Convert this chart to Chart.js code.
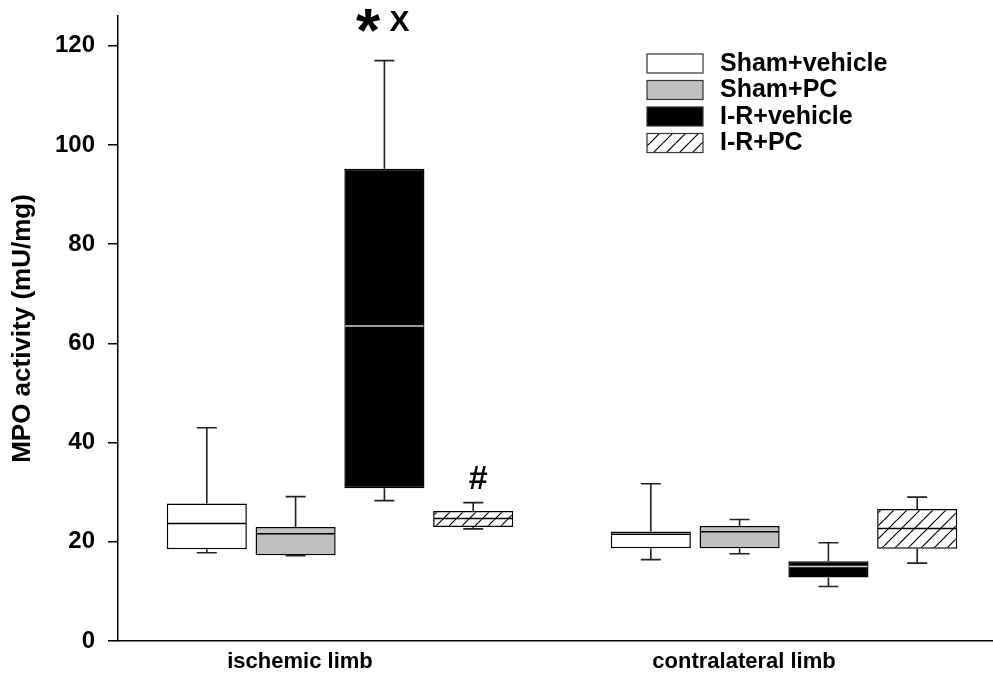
<!DOCTYPE html>
<html>
<head>
<meta charset="utf-8">
<script src="https://cdn.jsdelivr.net/npm/chart.js@4.4.0/dist/chart.umd.min.js"></script>
<style>
  html, body { margin: 0; padding: 0; overflow: hidden; background: #fff; }
  #wrap { width: 1010px; height: 679px; position: relative; }
</style>
</head>
<body>
<div id="wrap"><canvas id="chart"></canvas></div>
<script>
// ── data: [series][group] ──
const groups = ["ischemic limb", "contralateral limb"];
const seriesNames = ["Sham+vehicle", "Sham+PC", "I-R+vehicle", "I-R+PC"];
const whiskerMin = [[17.8, 16.4], [17.2, 17.6], [28.3, 11.0], [22.6, 15.7]];
const quartile1  = [[18.5, 18.7], [17.3, 18.7], [30.8, 12.8], [23.0, 18.6]];
const medians    = [[23.7, 21.5], [21.6, 22.0], [63.5, 15.0], [24.7, 22.7]];
const quartile3  = [[27.7, 22.1], [23.0, 23.2], [95.2, 16.1], [26.2, 26.6]];
const whiskerMax = [[43.0, 31.7], [29.1, 24.5], [117.0, 19.8], [27.9, 29.0]];
const yTicks = [0, 20, 40, 60, 80, 100, 120];
const marks = [
  { series: 2, group: 0, text: ["*", "X"] },
  { series: 3, group: 0, text: ["#"] }
];

const FONT = "'Liberation Sans', Arial, sans-serif";

function hatchPattern() {
  const c = document.createElement("canvas");
  c.width = c.height = 13;
  const g = c.getContext("2d");
  g.fillStyle = "#fff";
  g.fillRect(0, 0, 13, 13);
  g.strokeStyle = "#000";
  g.lineWidth = 1.2;
  g.beginPath();
  [-13, 0, 13].forEach(k => { g.moveTo(k, 13); g.lineTo(k + 13, 0); });
  g.stroke();
  return g.createPattern(c, "repeat");
}

const fills = ["#ffffff", "#c0c0c0", "#000000", hatchPattern()];

// whiskers, medians, significance marks, legend
const boxExtras = {
  id: "boxExtras",
  afterDatasetsDraw(chart) {
    const { ctx, scales: { y } } = chart;
    ctx.save();
    chart.data.datasets.forEach((ds, s) => {
      chart.getDatasetMeta(s).data.forEach((bar, g) => {
        const half = bar.width / 2;
        const top = y.getPixelForValue(quartile3[s][g]);
        const bot = y.getPixelForValue(quartile1[s][g]);
        const hi = y.getPixelForValue(whiskerMax[s][g]);
        const lo = y.getPixelForValue(whiskerMin[s][g]);
        ctx.strokeStyle = "#222";
        ctx.lineWidth = 1.6;
        ctx.beginPath();
        ctx.moveTo(bar.x, top); ctx.lineTo(bar.x, hi);
        ctx.moveTo(bar.x - 10, hi); ctx.lineTo(bar.x + 10, hi);
        ctx.moveTo(bar.x, bot); ctx.lineTo(bar.x, lo);
        ctx.moveTo(bar.x - 10, lo); ctx.lineTo(bar.x + 10, lo);
        ctx.stroke();
        const m = y.getPixelForValue(medians[s][g]);
        ctx.strokeStyle = s === 2 ? "#d0d0d0" : "#000";
        ctx.lineWidth = 1.5;
        ctx.beginPath();
        ctx.moveTo(bar.x - half + 1, m); ctx.lineTo(bar.x + half - 1, m);
        ctx.stroke();
      });
    });

    // significance marks above whiskers
    ctx.fillStyle = "#000";
    ctx.textBaseline = "alphabetic";
    marks.forEach(mk => {
      const bar = chart.getDatasetMeta(mk.series).data[mk.group];
      const cy = y.getPixelForValue(whiskerMax[mk.series][mk.group]) - (mk.text.length > 1 ? 40 : 25);
      const xs = mk.text.length > 1 ? [bar.x - 16, bar.x + 15] : [bar.x + 5];
      mk.text.forEach((t, i) => {
        ctx.font = (t === "*" ? "bold 62px " : t === "#" ? "bold 34px " : "bold 30px ") + FONT;
        const mt = ctx.measureText(t);
        const w = mt.actualBoundingBoxRight + mt.actualBoundingBoxLeft;
        const h = mt.actualBoundingBoxAscent + mt.actualBoundingBoxDescent;
        ctx.fillText(t, xs[i] - w / 2 + mt.actualBoundingBoxLeft,
                     cy + h / 2 - mt.actualBoundingBoxDescent);
      });
    });

    // legend
    ctx.font = "bold 25px " + FONT;
    ctx.textBaseline = "middle";
    ctx.textAlign = "left";
    seriesNames.forEach((name, i) => {
      const top = 54 + i * 26.5;
      ctx.fillStyle = fills[i];
      ctx.fillRect(647, top, 56, 19);
      ctx.strokeStyle = "#333";
      ctx.lineWidth = 1.2;
      ctx.strokeRect(647, top, 56, 19);
      ctx.fillStyle = "#000";
      ctx.fillText(name, 720, top + 10);
    });
    ctx.restore();
  }
};

const datasets = seriesNames.map((name, s) => ({
  label: name,
  data: groups.map((_, g) => [quartile1[s][g], quartile3[s][g]]),
  backgroundColor: fills[s],
  borderColor: "#000",
  borderWidth: 1.5,
  borderSkipped: false,
  barPercentage: 0.902,
  categoryPercentage: 0.8
}));

new Chart(document.getElementById("chart"), {
  type: "bar",
  data: { labels: groups, datasets },
  options: {
    responsive: true,
    maintainAspectRatio: false,
    animation: false,
    layout: { padding: { top: 16, right: 4, left: 0, bottom: 0 } },
    plugins: { legend: { display: false }, tooltip: { enabled: false } },
    scales: {
      x: {
        afterFit: s => { s.height = 38; s.paddingLeft = 0; s.paddingRight = 0; },
        grid: { display: true, drawOnChartArea: false, drawTicks: false },
        border: { display: true, color: "#000", width: 1.5 },
        ticks: { padding: 8, labelOffset: -40, color: "#000", font: { family: FONT, size: 22, weight: "bold" } }
      },
      y: {
        min: 0,
        max: 126,
        afterFit: s => { s.width = 118; s.paddingTop = 0; s.paddingBottom = 0; },
        afterBuildTicks: s => { s.ticks = yTicks.map(v => ({ value: v })); },
        grid: { drawOnChartArea: false, drawTicks: true, tickLength: 10, color: "#000", lineWidth: 1.5 },
        border: { display: true, color: "#000", width: 1.5 },
        ticks: { padding: 13, color: "#000", font: { family: FONT, size: 24, weight: "bold" } },
        title: {
          display: true,
          text: "MPO activity (mU/mg)",
          color: "#000",
          padding: { top: 7, bottom: 0 },
          font: { family: FONT, size: 26, weight: "bold" }
        }
      }
    }
  },
  plugins: [boxExtras]
});
</script>
</body>
</html>
